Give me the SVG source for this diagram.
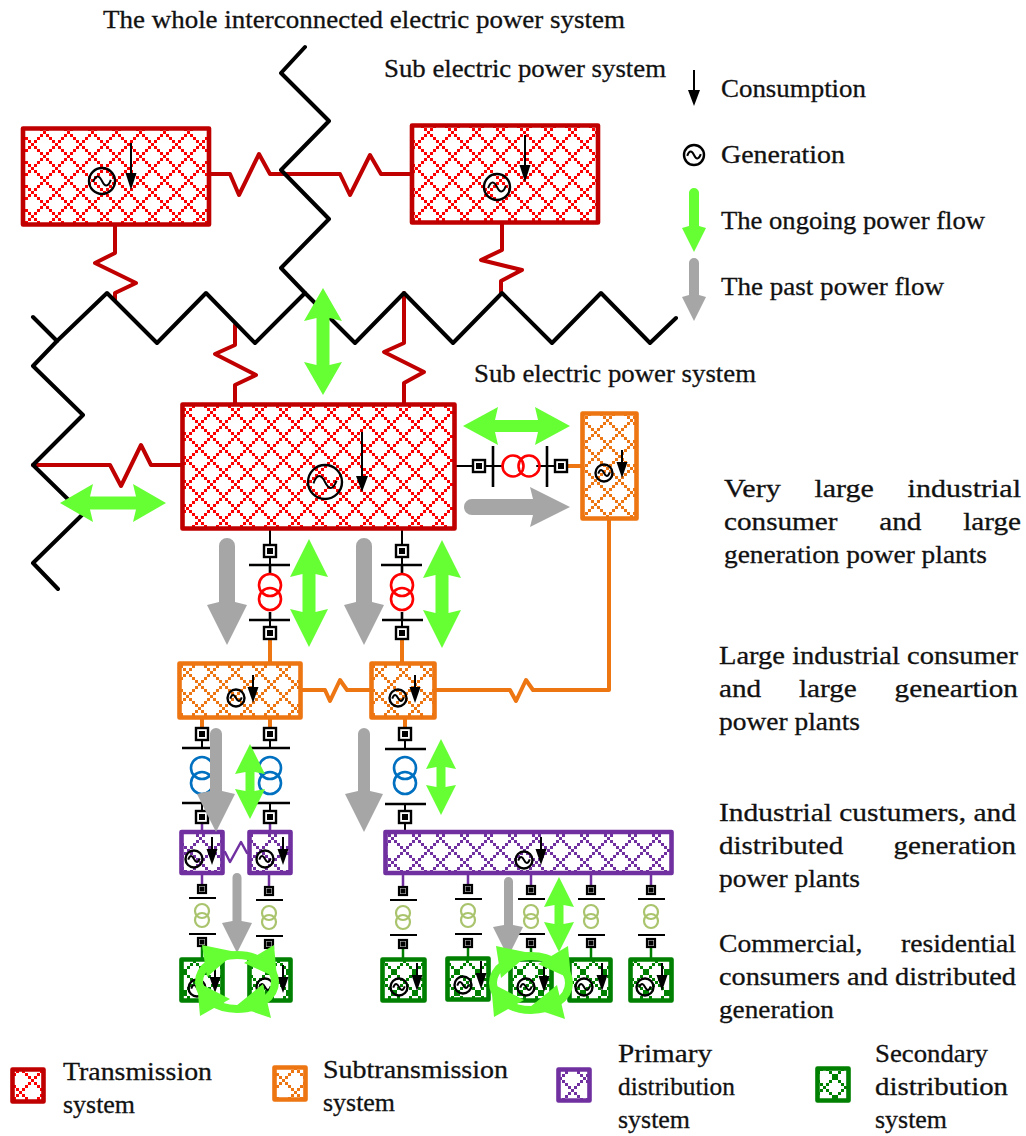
<svg xmlns="http://www.w3.org/2000/svg" width="1026" height="1136" viewBox="0 0 1026 1136">
<style>
text{font-family:"Liberation Serif","Times New Roman",serif;font-size:26px;fill:#111;stroke:#111;stroke-width:.3px}
.l{fill:none;stroke-linejoin:round;stroke-linecap:round}
.bk{stroke:#000;stroke-width:4}
.rd{stroke:#c00000;stroke-width:4}
.or{stroke:#ed7512;stroke-width:4}
.pu{stroke:#7030a0;stroke-width:2.5}
.dg{stroke:#008000;stroke-width:2.5}
.th{stroke:#000;stroke-width:2}
.box{stroke-linejoin:round;stroke-width:4.6}
.g{fill:#66ff33}
.y{fill:#a6a6a6}
.tr{fill:none;stroke-width:2.6}
.ol{fill:none;stroke:#a9c46c;stroke-width:2.2}
.bus{fill:none;stroke:#000;stroke-width:2.6}
</style>
<defs>
<path id="lat" shape-rendering="crispEdges" d="M0 0h3v3h-3zM3 3h3v3h-3zM6 6h3v3h-3zM9 9h3v3h-3zM12 12h3v3h-3zM15 15h3v3h-3zM18 18h3v3h-3zM21 21h3v3h-3zM21 3h3v3h-3zM18 6h3v3h-3zM15 9h3v3h-3zM9 15h3v3h-3zM6 18h3v3h-3zM3 21h3v3h-3z"/>
<path id="latg" shape-rendering="crispEdges" d="M0 0h3v3h-3zM3 3h3v3h-3zM6 6h3v3h-3zM9 9h3v3h-3zM12 12h3v3h-3zM15 15h3v3h-3zM18 18h3v3h-3zM18 3h3v3h-3zM15 6h3v3h-3zM12 9h3v3h-3zM9 12h3v3h-3zM6 15h3v3h-3zM3 18h3v3h-3z"/>
<pattern id="pr" patternUnits="userSpaceOnUse" width="24" height="24" x="43" y="131"><use href="#lat" fill="#f00"/></pattern>
<pattern id="prm" patternUnits="userSpaceOnUse" width="24" height="24" x="210" y="411"><use href="#lat" fill="#f00"/></pattern>
<pattern id="po" patternUnits="userSpaceOnUse" width="24" height="24" x="186" y="671"><use href="#lat" fill="#ed7512"/></pattern>
<pattern id="pp" patternUnits="userSpaceOnUse" width="24" height="24" x="391" y="837"><use href="#lat" fill="#7030a0"/></pattern>
<pattern id="pg" patternUnits="userSpaceOnUse" width="21" height="21" x="382" y="960"><use href="#latg" fill="#008000"/></pattern>
<g id="gen"><circle r="1" fill="none" stroke="#000" stroke-width="2.4" vector-effect="non-scaling-stroke"/><path d="M-.68 .08C-.45 -.55 -.2 -.4 0 0S.45 .55 .68 -.08" fill="none" stroke="#000" stroke-width="2" vector-effect="non-scaling-stroke"/></g>
<g id="dnS"><path d="M0 0V20" stroke="#000" stroke-width="2"/><path d="M-5.500 12H5.500L0 28Z" fill="#000"/></g>
<g id="dnL"><path d="M0 0V38" stroke="#000" stroke-width="2"/><path d="M-5.500 30H5.500L0 47Z" fill="#000"/></g>
<g id="dnM"><path d="M0 0V50" stroke="#000" stroke-width="2"/><path d="M-6 44H6L0 60Z" fill="#000"/></g>
<g id="dnT"><path d="M0 0V28" stroke="#000" stroke-width="2"/><path d="M-6 20H6L0 36Z" fill="#000"/></g>
<g id="cb"><rect x="-6" y="-6" width="12" height="12" fill="#fff" stroke="#000" stroke-width="2.4"/><rect x="-3" y="-3" width="6" height="6" fill="#000"/></g>
<g id="cbs"><rect x="-4" y="-4" width="8" height="8" fill="#fff" stroke="#000" stroke-width="2.2"/><rect x="-2.500" y="-2.500" width="5" height="5" fill="#000"/></g>
<g id="ring"><ellipse cx="237" cy="982" rx="38" ry="27" fill="none" stroke="#66ff33" stroke-width="8"/><path class="g" d="M202 945L236 952L207 977ZM274 945L244 963L277 978ZM271 1018L236 1006L263 984ZM200 1016L197 982L230 999Z"/></g>
</defs>

<g id="connectors">
<path class="l rd" d="M209 174H230L239 195L259 154L270 174H340L350 195L370 155L381 174H411"/>
<path class="l rd" d="M115 225V253L95 263L136 283L115 293V300"/>
<path class="l rd" d="M502 223V250L481 260L522 270L501 281V293"/>
<path class="l rd" d="M235 325V345L215 354L256 375L235 385V404"/>
<path class="l rd" d="M404 293V343L384 352L424 372L404 383V404"/>
<path class="l rd" d="M33 465H110L121 486L141 445L151 465H182"/>
<path class="l bk" d="M305 47L281 73L329 121L281 170L329 219L281 268L305 293"/>
<path class="l bk" d="M33 317L57 341L107 293L157 343L206 293L255 343L305 293L355 343L404 293L453 343L502 293L552 343L601 293L650 343L676 318"/>
<path class="l bk" d="M57 341L33 366L83 415L33 465L83 514L33 563L58 589"/>
<path class="l or" d="M301 690H325L330 701L340 680L347 690H371"/>
<path class="l or" d="M435 690H510L516 701L526 680L533 690H609V519"/>
<path class="l pu" d="M225 852L230 862L241 842L247 853"/>
<path class="l th" d="M455 466H503M537 466H555"/>
<path class="l or" d="M567 466H582"/>
<path class="l th" d="M270 529V565M402 529V565M270 620V627M402 620V627"/>
<path class="l or" d="M270 640V663M402 640V663"/>
<path class="l or" d="M202 718V727M270 718V727M405 718V727"/>
<path class="l th" d="M202 741V748M270 741V748M405 741V749M202 803V811M270 803V811M405 804V833"/>
<path class="l pu" d="M202 823V831M270 823V831"/>
<path class="l pu" d="M202 873V885M269 873V887M403 873V887M468 873V885M531 873V886M591 873V886M651 873V886"/>
<path class="l dg" d="M202 946V959M269 948V959M403 948V959M468 948V958M531 948V959M591 948V959M651 948V959"/>
</g>

<g id="node-box-a"><rect x="23" y="128.500" width="186" height="96" fill="url(#pr)" stroke="#c00000" class="box"/><use href="#gen" transform="translate(102 181) scale(13)"/><use href="#dnL" x="131" y="143"/></g>
<g id="node-box-b"><rect x="412" y="125.500" width="186" height="97" fill="url(#pr)" stroke="#c00000" class="box"/><use href="#gen" transform="translate(497 187) scale(13)"/><use href="#dnL" x="525" y="135"/></g>
<g id="node-main"><rect x="182.500" y="404.500" width="272" height="124" fill="url(#prm)" stroke="#c00000" class="box"/><use href="#gen" transform="translate(325 482) scale(17)"/><use href="#dnM" x="362" y="432"/></g>
<g id="node-orange-right"><rect x="582.500" y="413.500" width="54" height="105" fill="url(#po)" stroke="#ed7512" class="box"/><use href="#gen" transform="translate(604 473) scale(8.500)"/><use href="#dnS" x="622" y="450"/></g>
<g id="node-orange-a"><rect x="179.500" y="663.500" width="121" height="54" fill="url(#po)" stroke="#ed7512" class="box"/><use href="#gen" transform="translate(236 698) scale(8.500)"/><use href="#dnS" x="253" y="675"/></g>
<g id="node-orange-b"><rect x="371.500" y="663.500" width="63" height="54" fill="url(#po)" stroke="#ed7512" class="box"/><use href="#gen" transform="translate(398 698) scale(8.500)"/><use href="#dnS" x="415" y="675"/></g>
<g id="node-purple-a"><rect x="181.500" y="832" width="41" height="41" fill="url(#pp)" stroke="#7030a0" class="box"/><use href="#gen" transform="translate(194 859) scale(8.500)"/><use href="#dnS" x="212" y="837"/></g>
<g id="node-purple-b"><rect x="249.500" y="832" width="41" height="41" fill="url(#pp)" stroke="#7030a0" class="box"/><use href="#gen" transform="translate(265 859) scale(8.500)"/><use href="#dnS" x="283" y="837"/></g>
<g id="node-purple-c"><rect x="385.500" y="832" width="286" height="41" fill="url(#pp)" stroke="#7030a0" class="box"/><use href="#gen" transform="translate(524 860) scale(8.500)"/><use href="#dnS" x="541" y="837"/></g>
<g id="node-green-a"><rect x="181.500" y="959.500" width="41" height="41" fill="url(#pg)" stroke="#008000" class="box"/><use href="#gen" transform="translate(197 988) scale(8.500)"/><use href="#dnS" x="215" y="965"/></g>
<g id="node-green-b"><rect x="249.500" y="959.500" width="41" height="41" fill="url(#pg)" stroke="#008000" class="box"/><use href="#gen" transform="translate(265 987) scale(8.500)"/><use href="#dnS" x="283" y="965"/></g>
<g id="node-green-c"><rect x="382.500" y="959.500" width="42" height="41" fill="url(#pg)" stroke="#008000" class="box"/><use href="#gen" transform="translate(399 987) scale(8.500)"/><use href="#dnS" x="417" y="963"/></g>
<g id="node-green-d"><rect x="447.500" y="958.500" width="41" height="41" fill="url(#pg)" stroke="#008000" class="box"/><use href="#gen" transform="translate(463 985) scale(8.500)"/><use href="#dnS" x="481" y="961"/></g>
<g id="node-green-e"><rect x="510.500" y="959.500" width="41" height="41" fill="url(#pg)" stroke="#008000" class="box"/><use href="#gen" transform="translate(526 987) scale(8.500)"/><use href="#dnS" x="544" y="964"/></g>
<g id="node-green-f"><rect x="569.500" y="959.500" width="41" height="41" fill="url(#pg)" stroke="#008000" class="box"/><use href="#gen" transform="translate(584 987) scale(8.500)"/><use href="#dnS" x="602" y="963"/></g>
<g id="node-green-g"><rect x="630.500" y="959.500" width="41" height="41" fill="url(#pg)" stroke="#008000" class="box"/><use href="#gen" transform="translate(645 987) scale(8.500)"/><use href="#dnS" x="662" y="963"/></g>

<g id="transformer-h">
<use href="#cb" x="479" y="466"/><path class="bus" d="M493 446V487M547 446V487"/>
<circle class="tr" cx="513" cy="466" r="10.500" stroke="#f00"/><circle class="tr" cx="529" cy="466" r="10.500" stroke="#f00"/>
<use href="#cb" x="561" y="466"/>
</g>
<g id="transformers-red">
<path class="bus" d="M249 565H290M381 565H422M249 620H290M382 620H423M270 620V612M270 565V573M402 620V612M402 565V573"/>
<circle class="tr" cx="270" cy="585" r="11" stroke="#f00"/><circle class="tr" cx="270" cy="599" r="11" stroke="#f00"/>
<circle class="tr" cx="402" cy="585" r="11" stroke="#f00"/><circle class="tr" cx="402" cy="599" r="11" stroke="#f00"/>
<use href="#cb" x="270" y="551"/><use href="#cb" x="270" y="633"/><use href="#cb" x="402" y="551"/><use href="#cb" x="402" y="633"/>
</g>
<g id="transformers-blue">
<path class="bus" d="M182 748H222M250 748H290M385 749H426M182 803H222M250 803H290M385 804H426"/>
<circle class="tr" cx="202" cy="768" r="11" stroke="#0070c0"/><circle class="tr" cx="202" cy="783" r="11" stroke="#0070c0"/>
<circle class="tr" cx="270" cy="768" r="11" stroke="#0070c0"/><circle class="tr" cx="270" cy="783" r="11" stroke="#0070c0"/>
<circle class="tr" cx="405" cy="768" r="11" stroke="#0070c0"/><circle class="tr" cx="405" cy="783" r="11" stroke="#0070c0"/>
<use href="#cb" x="202" y="734"/><use href="#cb" x="270" y="734"/><use href="#cb" x="405" y="734"/>
<use href="#cb" x="202" y="817"/><use href="#cb" x="270" y="817"/><use href="#cb" x="405" y="817"/>
</g>
<g id="transformers-olive">
<path class="bus" style="stroke-width:2" d="M189 898H216M256 900H283M390 900H417M455 899H482M518 899H545M578 899H605M638 899H665M189 934H216M256 936H283M390 935H417M455 934H482M518 934H545M578 935H605M638 935H665"/>
<circle class="ol" cx="202" cy="911" r="7"/><circle class="ol" cx="202" cy="920" r="7"/>
<circle class="ol" cx="269" cy="913" r="7"/><circle class="ol" cx="269" cy="922" r="7"/>
<circle class="ol" cx="403" cy="913" r="7"/><circle class="ol" cx="403" cy="922" r="7"/>
<circle class="ol" cx="468" cy="911" r="7"/><circle class="ol" cx="468" cy="920" r="7"/>
<circle class="ol" cx="531" cy="912" r="7"/><circle class="ol" cx="531" cy="921" r="7"/>
<circle class="ol" cx="591" cy="912" r="7"/><circle class="ol" cx="591" cy="921" r="7"/>
<circle class="ol" cx="651" cy="912" r="7"/><circle class="ol" cx="651" cy="921" r="7"/>
<use href="#cbs" x="202" y="889"/><use href="#cbs" x="269" y="891"/><use href="#cbs" x="403" y="891"/><use href="#cbs" x="468" y="889"/><use href="#cbs" x="531" y="890"/><use href="#cbs" x="591" y="890"/><use href="#cbs" x="651" y="890"/>
<use href="#cbs" x="202" y="942"/><use href="#cbs" x="269" y="944"/><use href="#cbs" x="403" y="944"/><use href="#cbs" x="468" y="943"/><use href="#cbs" x="531" y="943"/><use href="#cbs" x="591" y="943"/><use href="#cbs" x="651" y="943"/>
</g>

<g id="flows-past">
<path class="y" d="M219 546A8 8 0 0 1 235 546V602L247 605L227 645L207 605L219 602Z"/>
<path class="y" d="M356 546A8 8 0 0 1 372 546V602L384 605L364 645L344 605L356 602Z"/>
<path class="y" d="M472 499A8 8 0 0 0 472 515H533L530 527L570 507L530 487L533 499Z"/>
<path class="y" d="M210 734A6 6 0 0 1 222 734V791L235 794L216 832L197 794L210 791Z"/>
<path class="y" d="M358 734A6 6 0 0 1 370 734V791L383 794L364 832L345 794L358 791Z"/>
<path class="y" d="M232.500 877.500A4.500 4.500 0 0 1 241.500 877.500V921L252 923L237 953L222 923L232.500 921Z"/>
<path class="y" d="M504 881.500A4.500 4.500 0 0 1 513 881.500V925L523 927L508 957L493 927L504 925Z"/>
</g>
<g id="flows-ongoing">
<path class="g" d="M323 288L342 321L329.500 318V365L342 362L323 395L304 362L316.500 365V318L304 321Z"/>
<path class="g" d="M60 503L93 484L90 496.500H136L133 484L166 503L133 522L136 509.500H90L93 522Z"/>
<path class="g" d="M463 426L498 407L495 420H538L535 407L570 426L535 445L538 432H495L498 445Z"/>
<path class="g" d="M309 539L328 577L315.500 574V612L328 609L309 647L290 609L302.500 612V574L290 577Z"/>
<path class="g" d="M442 540L461 578L448.500 575V613L461 610L442 648L423 610L435.500 613V575L423 578Z"/>
<path class="g" d="M250 744L265 774L254.500 772V791L265 789L250 819L235 789L245.500 791V772L235 774Z"/>
<path class="g" d="M441 739L456 769L445.500 767V787L456 785L441 815L426 785L436.500 787V767L426 769Z"/>
<path class="g" d="M559 877L574 907L563.500 905V924L574 922L559 952L544 922L554.500 924V905L544 907Z"/>
<use href="#ring"/>
<use href="#ring" x="294" y="1"/>
</g>

<g id="legend-top">
<use href="#dnT" x="694" y="70"/>
<use href="#gen" transform="translate(694 155) scale(10)"/>
<path class="g" d="M689 193A5 5 0 0 1 699 193V226L706 228L694 252L682 228L689 226Z"/>
<path class="y" d="M689 263A5 5 0 0 1 699 263V295L706 297L694 321L682 297L689 295Z"/>
</g>
<g id="legend-bottom">
<rect x="12.500" y="1069.500" width="31" height="32" fill="url(#pr)" stroke="#c00000" class="box"/>
<rect x="274.500" y="1067.500" width="31" height="32" fill="url(#po)" stroke="#ed7512" class="box"/>
<rect x="558.500" y="1069.500" width="31" height="31" fill="url(#pp)" stroke="#7030a0" class="box"/>
<rect x="817.500" y="1068.500" width="31" height="32" fill="url(#pg)" stroke="#008000" class="box"/>
</g>

<g id="labels">
<text x="103" y="28" textLength="522" lengthAdjust="spacingAndGlyphs">The whole interconnected electric power system</text>
<text x="384" y="77" textLength="282" lengthAdjust="spacingAndGlyphs">Sub electric power system</text>
<text x="721" y="97" textLength="145" lengthAdjust="spacingAndGlyphs">Consumption</text>
<text x="721" y="163" textLength="124" lengthAdjust="spacingAndGlyphs">Generation</text>
<text x="721" y="229" textLength="264" lengthAdjust="spacingAndGlyphs">The ongoing power flow</text>
<text x="721" y="295" textLength="223" lengthAdjust="spacingAndGlyphs">The past power flow</text>
<text x="474" y="382" textLength="282" lengthAdjust="spacingAndGlyphs">Sub electric power system</text>
<text x="724" y="497" textLength="297" lengthAdjust="spacingAndGlyphs" style="word-spacing:22.700px">Very large industrial</text>
<text x="724" y="530" textLength="297" lengthAdjust="spacingAndGlyphs" style="word-spacing:30.700px">consumer and large</text>
<text x="724" y="563" textLength="263" lengthAdjust="spacingAndGlyphs">generation power plants</text>
<text x="719" y="664" textLength="299" lengthAdjust="spacingAndGlyphs">Large industrial consumer</text>
<text x="719" y="697" textLength="299" lengthAdjust="spacingAndGlyphs" style="word-spacing:27px">and large geneartion</text>
<text x="719" y="730" textLength="141" lengthAdjust="spacingAndGlyphs">power plants</text>
<text x="719" y="821" textLength="297" lengthAdjust="spacingAndGlyphs">Industrial custumers, and</text>
<text x="719" y="854" textLength="297" lengthAdjust="spacingAndGlyphs" style="word-spacing:38.600px">distributed generation</text>
<text x="719" y="887" textLength="141" lengthAdjust="spacingAndGlyphs">power plants</text>
<text x="719" y="952" textLength="297" lengthAdjust="spacingAndGlyphs" style="word-spacing:29.800px">Commercial, residential</text>
<text x="719" y="985" textLength="297" lengthAdjust="spacingAndGlyphs">consumers and distributed</text>
<text x="719" y="1018" textLength="115" lengthAdjust="spacingAndGlyphs">generation</text>
<text x="63" y="1080" textLength="149" lengthAdjust="spacingAndGlyphs">Transmission</text>
<text x="63" y="1113" textLength="72" lengthAdjust="spacingAndGlyphs">system</text>
<text x="323" y="1078" textLength="185" lengthAdjust="spacingAndGlyphs">Subtransmission</text>
<text x="323" y="1111" textLength="72" lengthAdjust="spacingAndGlyphs">system</text>
<text x="618" y="1062" textLength="94" lengthAdjust="spacingAndGlyphs">Primary</text>
<text x="618" y="1095" textLength="117" lengthAdjust="spacingAndGlyphs">distribution</text>
<text x="618" y="1128" textLength="72" lengthAdjust="spacingAndGlyphs">system</text>
<text x="875" y="1062" textLength="113" lengthAdjust="spacingAndGlyphs">Secondary</text>
<text x="875" y="1095" textLength="133" lengthAdjust="spacingAndGlyphs">distribution</text>
<text x="875" y="1128" textLength="72" lengthAdjust="spacingAndGlyphs">system</text>
</g>
</svg>
